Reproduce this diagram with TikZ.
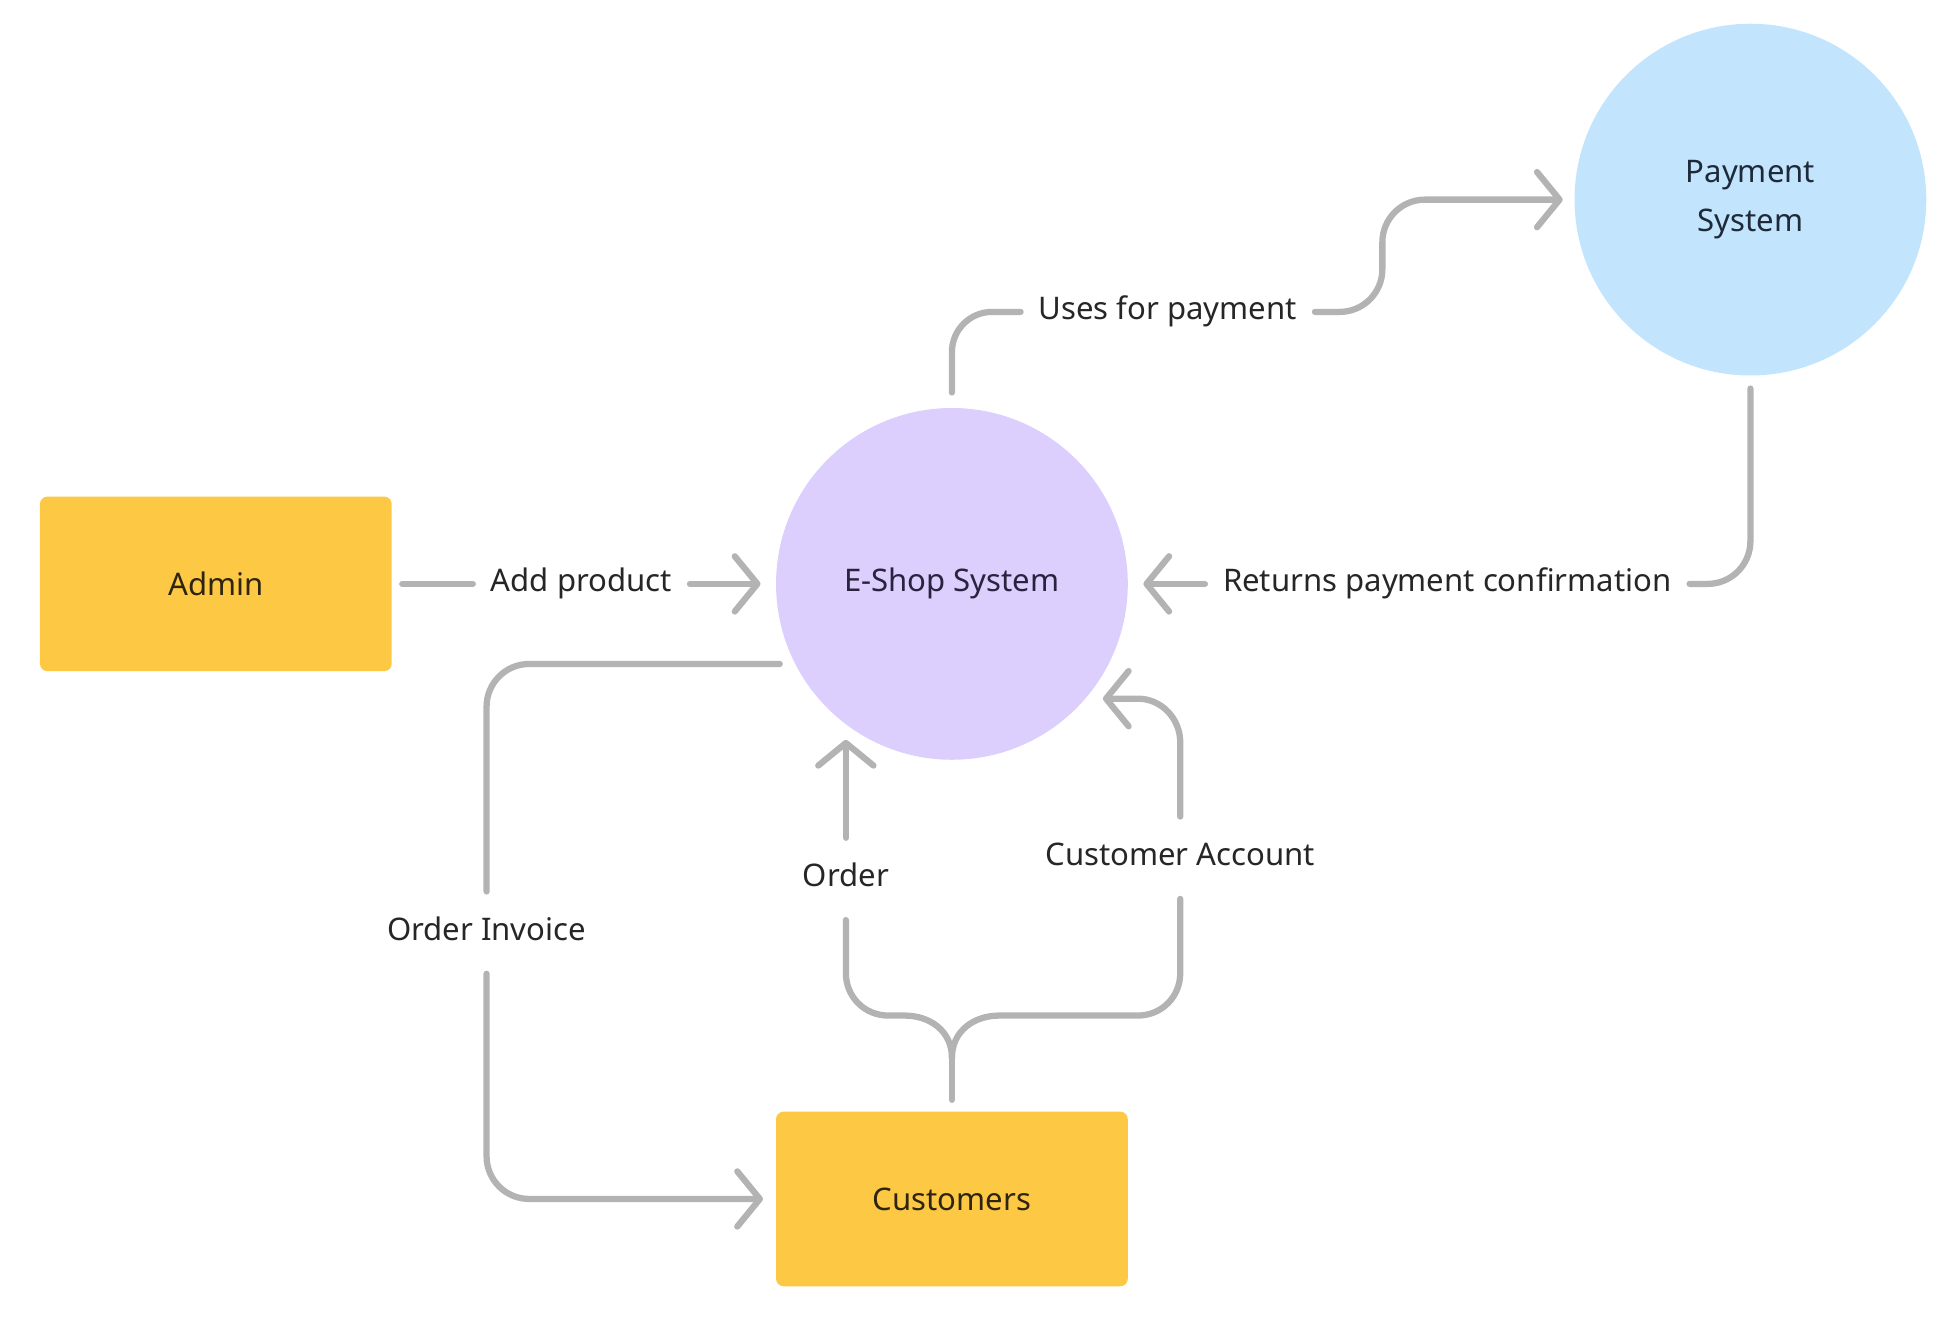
\documentclass[tikz,border=0pt]{standalone}
\usepackage{fontspec}
\setmainfont{Noto Sans}
\usetikzlibrary{arrows.meta,calc}
\definecolor{boxyellow}{HTML}{FDC844}
\definecolor{lavender}{HTML}{DCCEFD}
\definecolor{skyblue}{HTML}{C2E5FD}
\definecolor{conngray}{HTML}{B3B3B3}
\definecolor{txt}{HTML}{262626}
\definecolor{txtpurple}{HTML}{2A2340}
\definecolor{txtblue}{HTML}{1E2A3A}
\definecolor{txtbrown}{HTML}{2E2410}
\begin{document}
\begin{tikzpicture}[x=0.49725pt,y=-0.49725pt,
  every node/.style={font=\fontsize{12.4}{14.8}\selectfont, text=txt},
  entity/.style={fill=boxyellow, rounded corners=3pt, minimum width=140.2pt, minimum height=69.6pt, inner sep=0pt, text=txtbrown},
  process/.style={circle, minimum size=140.2pt, inner sep=0pt},
  hlabel/.style={inner xsep=7pt, inner ysep=2pt, text height=9pt, text depth=3pt},
  vlabel/.style={inner xsep=2pt, inner ysep=10.2pt, text height=9pt, text depth=3pt},
  conn/.style={draw=conngray, line width=2.5pt, line cap=round, line join=round},
  tip/.style={-{Straight Barb[length=9pt,width=22pt,round]}}
]
\useasboundingbox (0,0) rectangle (1568.6,1057.8);

% nodes
\node[entity] (admin) at (173,468) {Admin};
\node[entity] (cust) at (763,961) {Customers};
\node[process, fill=lavender, text=txtpurple] (eshop) at (763,468) {E-Shop System};
\node[process, fill=skyblue, align=center, text=txtblue] (pay) at (1403,160) {Payment\\[5pt]System};

% labels
\node[hlabel] (lAdd) at (466,468) {Add product};
\node[hlabel] (lUses) at (936,250) {Uses for payment};
\node[hlabel] (lRet) at (1160,468) {Returns payment confirmation};
\node[vlabel] (lInv) at (390,747.5) {Order Invoice};
\node[vlabel] (lOrd) at (678,704.5) {Order};
\node[vlabel] (lAcc) at (946,687.5) {Customer Account};

% coordinates
\coordinate (fork) at (763,848);
\coordinate (ordEnd) at (678,593);
\coordinate (accEnd) at (884,560);

% Admin -> E-Shop
\draw[conn] ([xshift=4pt]admin.east) -- (lAdd.west);
\draw[conn,tip] (lAdd.east) -- ([xshift=-6pt]eshop.west);

% E-Shop -> Payment
\draw[conn, rounded corners=16pt] ([yshift=6pt]eshop.north) |- (lUses.west);
\draw[conn, tip, rounded corners=17pt] (lUses.east) -- (1108,250) |- ([xshift=-4.5pt]pay.west);

% Payment -> E-Shop
\draw[conn, rounded corners=17pt] ([yshift=-5pt]pay.south) |- (lRet.east);
\draw[conn,tip] (lRet.west) -- ([xshift=6pt]eshop.east);

% E-Shop -> Customers (Order Invoice)
\draw[conn, rounded corners=17pt] ([xshift=-6pt]eshop.207.5) -| (lInv.north);
\draw[conn, tip, rounded corners=17pt] (lInv.south) |- ([xshift=-5pt]cust.west);

% Customers -> E-Shop (Order, Customer Account)
\draw[conn] ([yshift=4.5pt]cust.north) -- (fork);
\draw[conn] (fork) .. controls +(0,-22) and +(20,0) .. (725,814) -- (712,814)
  .. controls +(-19,0) and +(0,19) .. (678,780) -- (lOrd.south);
\draw[conn] (fork) .. controls +(0,-22) and +(-20,0) .. (801,814) -- (912,814)
  .. controls +(19,0) and +(0,19) .. (946,780) -- (lAcc.south);
\draw[conn,tip] (lOrd.north) -- (ordEnd);
\draw[conn,tip] (lAcc.north) -- (946,595) .. controls +(0,-19) and +(19,0) .. (912,560) -- (accEnd);
\end{tikzpicture}
\end{document}
